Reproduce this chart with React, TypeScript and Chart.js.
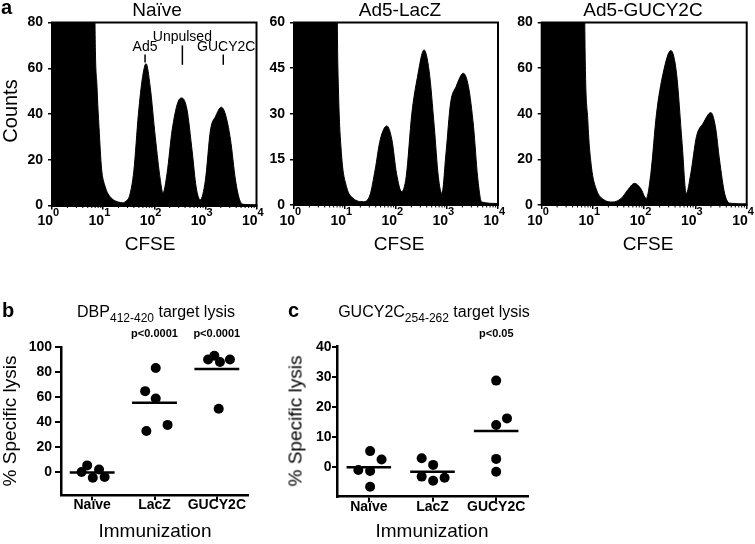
import React, { useEffect, useRef } from 'react';
import { Chart, registerables } from 'chart.js';

Chart.register(...registerables);

const FONT = "'Liberation Sans', Arial, Helvetica, sans-serif";
const PAGE_W = 755;
const PAGE_H = 544;

// ---------- Panel a: CFSE histograms (x = log10 CFSE intensity) ----------
const decades = [0, 1, 2, 3, 4];

const naiveLog = [0, 0.78, 0.84, 0.88, 0.92, 0.97, 1.03, 1.1, 1.2, 1.3, 1.38, 1.45, 1.52, 1.6, 1.69, 1.77, 1.84, 1.92, 2.02, 2.12, 2.17, 2.25, 2.35, 2.46, 2.54, 2.64, 2.74, 2.82, 2.9, 3.0, 3.1, 3.2, 3.31, 3.39, 3.49, 3.59, 3.67, 3.75, 4.0];
const naiveCounts = [300, 300, 82, 52, 34, 16, 9, 5, 2.5, 1.5, 1.2, 2, 4.5, 15, 40, 56, 62, 52, 30, 11, 5.5, 14, 33, 45, 47, 42, 24, 8, 2.5, 11, 33, 39, 43, 40, 29, 11, 2.5, 0.5, 0.3];

const laczLog = [0, 0.78, 0.85, 0.87, 0.93, 1.03, 1.16, 1.36, 1.49, 1.59, 1.69, 1.82, 1.92, 2.01, 2.11, 2.2, 2.31, 2.42, 2.55, 2.65, 2.75, 2.83, 2.9, 2.98, 3.07, 3.18, 3.32, 3.42, 3.52, 3.6, 3.68, 4.0];
const laczCounts = [300, 300, 60, 39, 17, 6, 2.2, 1.1, 3.3, 11.5, 21.4, 26, 21.4, 10.4, 4.4, 9.3, 30, 42, 51, 44, 25.8, 9.3, 3.8, 17, 33.5, 39, 43.3, 39, 25.8, 9.3, 1, 0.5];

const gucyLog = [0, 0.78, 0.84, 0.9, 0.97, 1.07, 1.2, 1.39, 1.55, 1.68, 1.81, 1.93, 2.04, 2.13, 2.24, 2.37, 2.52, 2.63, 2.74, 2.82, 2.91, 3.02, 3.15, 3.3, 3.39, 3.47, 3.57, 3.67, 4.0];
const gucyCounts = [300, 300, 80, 37, 16.8, 6.6, 2.5, 1.3, 2.9, 6.6, 9.5, 7.3, 2.9, 13.9, 40, 57.8, 67.7, 57.8, 27, 5, 13.9, 30, 35.8, 40.5, 34.3, 19.7, 5, 0.8, 0.5];

const naiveTicks = [0, 20, 40, 60, 80];
const laczTicks = [0, 15, 30, 45, 60];
const gucyTicks = [0, 20, 40, 60, 80];

const peakLabels = ['Ad5', 'Unpulsed', 'GUCY2C'];
const peakLog = [1.82, 2.55, 3.35];
const peakMarkTop = [66, 70, 66];
const peakMarkBottom = [62.5, 61.5, 61.5];
const peakTextShift = [0, 0, 3];

// ---------- Panels b / c: % specific lysis ----------
const groups = ['Naïve', 'LacZ', 'GUCY2C'];

const dbpNaive = [0.3, 5.6, -4.3, 2.4, -3.7];
const dbpLacz = [64.8, 83.2, 58.9, 33, 37.9];
const dbpGucy = [90.1, 93, 88, 90.1, 50.7];
const dbpNaiveJitter = [-0.17, -0.08, 0.01, 0.11, 0.2];
const dbpLaczJitter = [-0.15, 0.02, 0.02, -0.13, 0.21];
const dbpGucyJitter = [-0.14, -0.04, 0.05, 0.21, 0.03];
const dbpMeans = [0, 55.5, 82.4];
const dbpTicks = [0, 20, 40, 60, 80, 100];

const gcNaive = [-1.1, 5.2, 2.4, -1.4, -6.7];
const gcLacz = [2.8, 0.6, -3.3, -4.7, -3.7];
const gcGucy = [28.7, 16.1, 13.9, 2.6, -1.7];
const gcNaiveJitter = [-0.165, 0.02, 0.2, 0.02, 0.02];
const gcLaczJitter = [-0.17, 0.01, -0.17, 0.01, 0.19];
const gcGucyJitter = [0, 0.17, 0, 0, 0];
const gcMeans = [-0.2, -1.7, 11.9];
const gcTicks = [0, 10, 20, 30, 40];

// ---------- plugins ----------
const framePlugin = {
  id: 'frame',
  afterDatasetsDraw(chart: any) {
    const { ctx, chartArea: a } = chart;
    ctx.save();
    ctx.strokeStyle = '#000';
    ctx.lineWidth = 2;
    ctx.strokeRect(a.left, a.top, a.right - a.left, a.bottom - a.top);
    ctx.restore();
  },
};

const decadeLabelPlugin = {
  id: 'decadeLabels',
  afterDraw(chart: any) {
    const { ctx } = chart;
    const xs = chart.scales.x;
    const bottom = chart.chartArea.bottom;
    ctx.save();
    ctx.fillStyle = '#000';
    ctx.strokeStyle = '#000';
    ctx.lineWidth = 1;
    for (let d = 0; d < 4; d++) {
      for (let k = 2; k < 10; k++) {
        const px = xs.getPixelForValue(d + Math.log10(k));
        ctx.beginPath();
        ctx.moveTo(px, bottom);
        ctx.lineTo(px, bottom + 2.5);
        ctx.stroke();
      }
    }
    ctx.textBaseline = 'alphabetic';
    decades.forEach((v) => {
      const px = xs.getPixelForValue(v);
      ctx.font = `bold 14px ${FONT}`;
      ctx.textAlign = 'right';
      ctx.fillText('10', px + 1, bottom + 19.5);
      ctx.font = `bold 11px ${FONT}`;
      ctx.textAlign = 'left';
      ctx.fillText(String(v), px + 1, bottom + 10);
    });
    ctx.restore();
  },
};

const peakPlugin = {
  id: 'peaks',
  afterDraw(chart: any) {
    const { ctx } = chart;
    const xs = chart.scales.x;
    const ys = chart.scales.y;
    ctx.save();
    ctx.fillStyle = '#000';
    ctx.strokeStyle = '#000';
    ctx.lineWidth = 1.5;
    ctx.font = `14px ${FONT}`;
    ctx.textAlign = 'center';
    ctx.textBaseline = 'alphabetic';
    peakLabels.forEach((lab, i) => {
      const px = xs.getPixelForValue(peakLog[i]);
      const y1 = ys.getPixelForValue(peakMarkTop[i]);
      const y2 = ys.getPixelForValue(peakMarkBottom[i]);
      ctx.beginPath();
      ctx.moveTo(px, y1);
      ctx.lineTo(px, y2);
      ctx.stroke();
      ctx.fillText(lab, px + peakTextShift[i], y1 - 4);
    });
    ctx.restore();
  },
};

type Area = { l: number; t: number; r: number; b: number };

function histogramConfig(logs: number[], counts: number[], ticks: number[], area: Area, extra: any[]) {
  const yMax = ticks[ticks.length - 1];
  return {
    type: 'line',
    data: {
      datasets: [
        {
          data: logs.map((x, i) => ({ x, y: counts[i] })),
          fill: 'origin',
          backgroundColor: '#000',
          borderColor: '#000',
          borderWidth: 1,
          pointRadius: 0,
          cubicInterpolationMode: 'monotone',
        },
      ],
    },
    options: {
      animation: false,
      responsive: false,
      devicePixelRatio: 1,
      events: [],
      layout: { padding: { left: area.l - 30, top: area.t, right: PAGE_W - area.r, bottom: PAGE_H - area.b - 40 } },
      plugins: { legend: { display: false }, tooltip: { enabled: false } },
      scales: {
        x: {
          type: 'linear',
          min: 0,
          max: 4,
          afterBuildTicks: (s: any) => { s.ticks = decades.map((v) => ({ value: v })); },
          afterFit: (s: any) => { s.height = 40; s.paddingLeft = 0; s.paddingRight = 0; },
          ticks: { display: false },
          grid: { drawOnChartArea: false, drawTicks: true, tickLength: 4, color: '#000', lineWidth: 1.5 },
          border: { display: true, color: '#000', width: 2 },
        },
        y: {
          type: 'linear',
          min: 0,
          max: yMax,
          afterBuildTicks: (s: any) => { s.ticks = ticks.map((v) => ({ value: v })); },
          afterFit: (s: any) => { s.width = 30; s.paddingTop = 0; s.paddingBottom = 0; },
          ticks: { color: '#000', font: { family: FONT, size: 14, weight: 'bold' }, padding: 5 },
          grid: { drawOnChartArea: false, drawTicks: true, tickLength: 4, color: '#000', lineWidth: 1.5 },
          border: { display: true, color: '#000', width: 2 },
        },
      },
    },
    plugins: [framePlugin, decadeLabelPlugin, ...extra],
  };
}

function dotPlotConfig(
  values: number[][],
  jitters: number[][],
  means: number[],
  half: number,
  yMin: number,
  ticks: number[],
  area: Area,
  yTickLen: number,
  yTickPad: number
) {
  const datasets: any[] = [];
  values.forEach((vals, g) => {
    datasets.push({
      data: vals.map((v, i) => ({ x: g + 1 + jitters[g][i], y: v })),
      backgroundColor: '#000',
      borderColor: '#000',
      pointRadius: 5,
      pointBorderWidth: 0,
      showLine: false,
    });
    datasets.push({
      data: [
        { x: g + 1 - half, y: means[g] },
        { x: g + 1 + half, y: means[g] },
      ],
      borderColor: '#000',
      borderWidth: 2.5,
      pointRadius: 0,
      showLine: true,
      fill: false,
    });
  });
  return {
    type: 'scatter',
    data: { datasets },
    options: {
      animation: false,
      responsive: false,
      devicePixelRatio: 1,
      events: [],
      layout: { padding: { left: area.l - 45, top: area.t, right: PAGE_W - area.r, bottom: PAGE_H - area.b - 30 } },
      plugins: { legend: { display: false }, tooltip: { enabled: false } },
      scales: {
        x: {
          type: 'linear',
          min: 0.5,
          max: 3.5,
          afterBuildTicks: (s: any) => { s.ticks = groups.map((_, i) => ({ value: i + 1 })); },
          afterFit: (s: any) => { s.height = 30; s.paddingLeft = 0; s.paddingRight = 0; },
          ticks: {
            color: '#000',
            font: { family: FONT, size: 14, weight: 'bold' },
            padding: -3,
            autoSkip: false,
            maxRotation: 0,
            callback: (v: any) => groups[Math.round(v) - 1],
          },
          grid: { drawOnChartArea: false, drawTicks: true, tickLength: 5, color: '#000', lineWidth: 2 },
          border: { display: true, color: '#000', width: 2.5 },
        },
        y: {
          type: 'linear',
          min: yMin,
          max: ticks[ticks.length - 1],
          afterBuildTicks: (s: any) => { s.ticks = ticks.map((v) => ({ value: v })); },
          afterFit: (s: any) => { s.width = 45; s.paddingTop = 0; s.paddingBottom = 0; },
          ticks: { color: '#000', font: { family: FONT, size: 14, weight: 'bold' }, padding: yTickPad },
          grid: { drawOnChartArea: false, drawTicks: true, tickLength: yTickLen, color: '#000', lineWidth: 2 },
          border: { display: true, color: '#000', width: 2.5 },
        },
      },
    },
  };
}

function ChartLayer({ make }: { make: () => any }) {
  const ref = useRef<HTMLCanvasElement | null>(null);
  useEffect(() => {
    if (!ref.current) return;
    const chart = new Chart(ref.current, make());
    return () => chart.destroy();
  }, []);
  return (
    <canvas
      ref={ref}
      width={PAGE_W}
      height={PAGE_H}
      style={{ position: 'absolute', left: 0, top: 0, width: PAGE_W, height: PAGE_H }}
    />
  );
}

// text helper: x = anchor, y = baseline
function Txt(props: { x: number; y: number; s: number; b?: boolean; align?: 'left' | 'center'; children: any }) {
  const { x, y, s, b, align = 'center', children } = props;
  return (
    <div
      style={{
        position: 'absolute',
        left: x,
        top: y - 0.8465 * s,
        fontSize: s,
        lineHeight: `${s}px`,
        fontFamily: FONT,
        fontWeight: b ? 'bold' : 'normal',
        whiteSpace: 'nowrap',
        transform: align === 'center' ? 'translateX(-50%)' : undefined,
        color: '#000',
      }}
    >
      {children}
    </div>
  );
}

function VTxt(props: { x: number; y: number; s: number; children: any }) {
  const { x, y, s, children } = props;
  return (
    <div
      style={{
        position: 'absolute',
        left: x,
        top: y,
        fontSize: s,
        lineHeight: `${s}px`,
        fontFamily: FONT,
        whiteSpace: 'nowrap',
        transform: 'translate(-50%, -50%) rotate(-90deg)',
        color: '#000',
      }}
    >
      {children}
    </div>
  );
}

const subStyle = { fontSize: 12, verticalAlign: -5 } as any;

export default function App() {
  return (
    <div style={{ position: 'absolute', left: 0, top: 0, width: PAGE_W, height: PAGE_H, background: '#fff', overflow: 'hidden' }}>
      <ChartLayer make={() => histogramConfig(naiveLog, naiveCounts, naiveTicks, { l: 52, t: 22.5, r: 256.5, b: 205.5 }, [peakPlugin])} />
      <ChartLayer make={() => histogramConfig(laczLog, laczCounts, laczTicks, { l: 294, t: 22.5, r: 498, b: 205 }, [])} />
      <ChartLayer make={() => histogramConfig(gucyLog, gucyCounts, gucyTicks, { l: 541.7, t: 22.5, r: 746.7, b: 205 }, [])} />
      <ChartLayer
        make={() =>
          dotPlotConfig(
            [dbpNaive, dbpLacz, dbpGucy],
            [dbpNaiveJitter, dbpLaczJitter, dbpGucyJitter],
            dbpMeans,
            0.36,
            -18,
            dbpTicks,
            { l: 61, t: 347, r: 248, b: 495 },
            6,
            3
          )
        }
      />
      <ChartLayer
        make={() =>
          dotPlotConfig(
            [gcNaive, gcLacz, gcGucy],
            [gcNaiveJitter, gcLaczJitter, gcGucyJitter],
            gcMeans,
            0.35,
            -10,
            gcTicks,
            { l: 337, t: 346.7, r: 528, b: 496.7 },
            5,
            0.5
          )
        }
      />

      <Txt x={1} y={14} s={20} b align="left">a</Txt>
      <Txt x={157} y={16} s={19}>Naïve</Txt>
      <Txt x={400} y={16} s={19}>Ad5-LacZ</Txt>
      <Txt x={643} y={16} s={19}>Ad5-GUCY2C</Txt>
      <VTxt x={10} y={111} s={20}>Counts</VTxt>
      <Txt x={150} y={250} s={19}>CFSE</Txt>
      <Txt x={399} y={250} s={19}>CFSE</Txt>
      <Txt x={648} y={250} s={19}>CFSE</Txt>

      <Txt x={2} y={317} s={20} b align="left">b</Txt>
      <Txt x={156} y={318} s={16}>
        DBP<span style={subStyle}>412-420</span> target lysis
      </Txt>
      <Txt x={154.5} y={337} s={11} b>p&lt;0.0001</Txt>
      <Txt x={216.8} y={337} s={11} b>p&lt;0.0001</Txt>
      <VTxt x={9} y={421} s={19}>% Specific lysis</VTxt>
      <Txt x={155} y={537} s={19}>Immunization</Txt>

      <Txt x={288} y={317} s={20} b align="left">c</Txt>
      <Txt x={434} y={318} s={16}>
        GUCY2C<span style={subStyle}>254-262</span> target lysis
      </Txt>
      <Txt x={496.3} y={337} s={11} b>p&lt;0.05</Txt>
      <VTxt x={295} y={421} s={19}>% Specific lysis</VTxt>
      <Txt x={432} y={537} s={19}>Immunization</Txt>
    </div>
  );
}
